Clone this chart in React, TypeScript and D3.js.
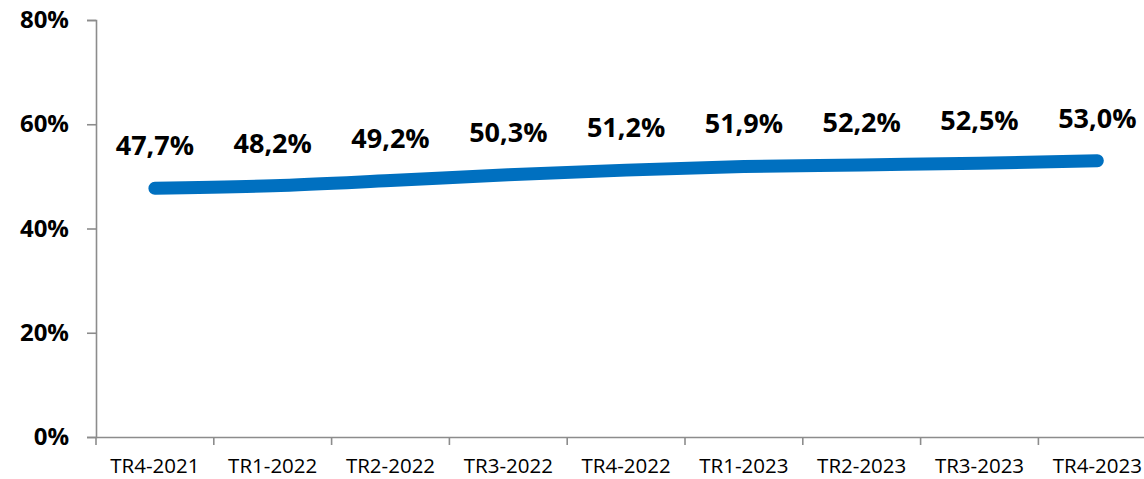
import React, { useEffect, useRef } from 'react';
import * as d3 from 'd3';

// quarters and share values (%)
const quarters = ['TR4-2021', 'TR1-2022', 'TR2-2022', 'TR3-2022', 'TR4-2022', 'TR1-2023', 'TR2-2023', 'TR3-2023', 'TR4-2023'];
const shares = [47.7, 48.2, 49.2, 50.3, 51.2, 51.9, 52.2, 52.5, 53.0];
const yTicks = [0, 20, 40, 60, 80];

const W = 1144;
const H = 479;
const FONT = '"Open Sans", "Noto Sans", sans-serif';

const App = () => {
  const svgRef = useRef<SVGSVGElement>(null);

  useEffect(() => {
    const svg = d3.select(svgRef.current);
    svg.selectAll('*').remove();

    const left = 96;
    const band = 117.8;
    const x = d3.scaleBand().domain(quarters).range([left, left + band * quarters.length]);
    const y = d3.scaleLinear().domain([0, 80]).range([437, 20]);

    // y axis
    const yAxis = svg.append('g')
      .attr('transform', `translate(${left},0)`)
      .call(d3.axisLeft(y).tickValues(yTicks).tickSize(9).tickPadding(18).tickFormat(d => `${d}%`));
    yAxis.select('.domain').attr('stroke', '#8c8c8c').attr('stroke-width', 1.6);
    yAxis.selectAll('.tick line').attr('stroke', '#8c8c8c').attr('stroke-width', 1.6);
    yAxis.selectAll('.tick text')
      .attr('fill', '#000')
      .style('font-family', FONT)
      .style('font-size', '24px')
      .style('font-weight', '700');

    // x axis
    const xAxis = svg.append('g')
      .attr('transform', `translate(0,${y(0)})`)
      .call(d3.axisBottom(x).tickSize(0).tickPadding(21));
    xAxis.select('.domain').attr('stroke', '#8c8c8c').attr('stroke-width', 1.6);
    xAxis.selectAll('.tick text')
      .attr('fill', '#000')
      .style('font-family', FONT)
      .style('font-size', '20.5px');
    // tick marks between categories
    xAxis.selectAll('line.sep')
      .data(d3.range(quarters.length + 1))
      .join('line')
      .attr('class', 'sep')
      .attr('x1', i => left + band * i)
      .attr('x2', i => left + band * i)
      .attr('y1', 0)
      .attr('y2', 8)
      .attr('stroke', '#8c8c8c')
      .attr('stroke-width', 1.6);

    const cx = (q: string) => (x(q) ?? 0) + x.bandwidth() / 2;

    const line = d3.line<number>()
      .x((_, i) => cx(quarters[i]))
      .y(d => y(d))
      .curve(d3.curveMonotoneX);

    svg.append('path')
      .datum(shares)
      .attr('d', line)
      .attr('fill', 'none')
      .attr('stroke', '#0070c0')
      .attr('stroke-width', 13)
      .attr('stroke-linecap', 'round')
      .attr('stroke-linejoin', 'round');

    svg.append('g')
      .selectAll('text')
      .data(shares)
      .join('text')
      .attr('x', (_, i) => cx(quarters[i]))
      .attr('y', d => y(d) - 33)
      .attr('text-anchor', 'middle')
      .style('font-family', FONT)
      .style('font-size', '27px')
      .style('font-weight', '700')
      .attr('fill', '#000')
      .text(d => `${d.toFixed(1).replace('.', ',')}%`);
  }, []);

  return (
    <svg
      ref={svgRef}
      width={W}
      height={H}
      style={{ position: 'absolute', left: 0, top: 0, background: '#fff' }}
    />
  );
};

export default App;
